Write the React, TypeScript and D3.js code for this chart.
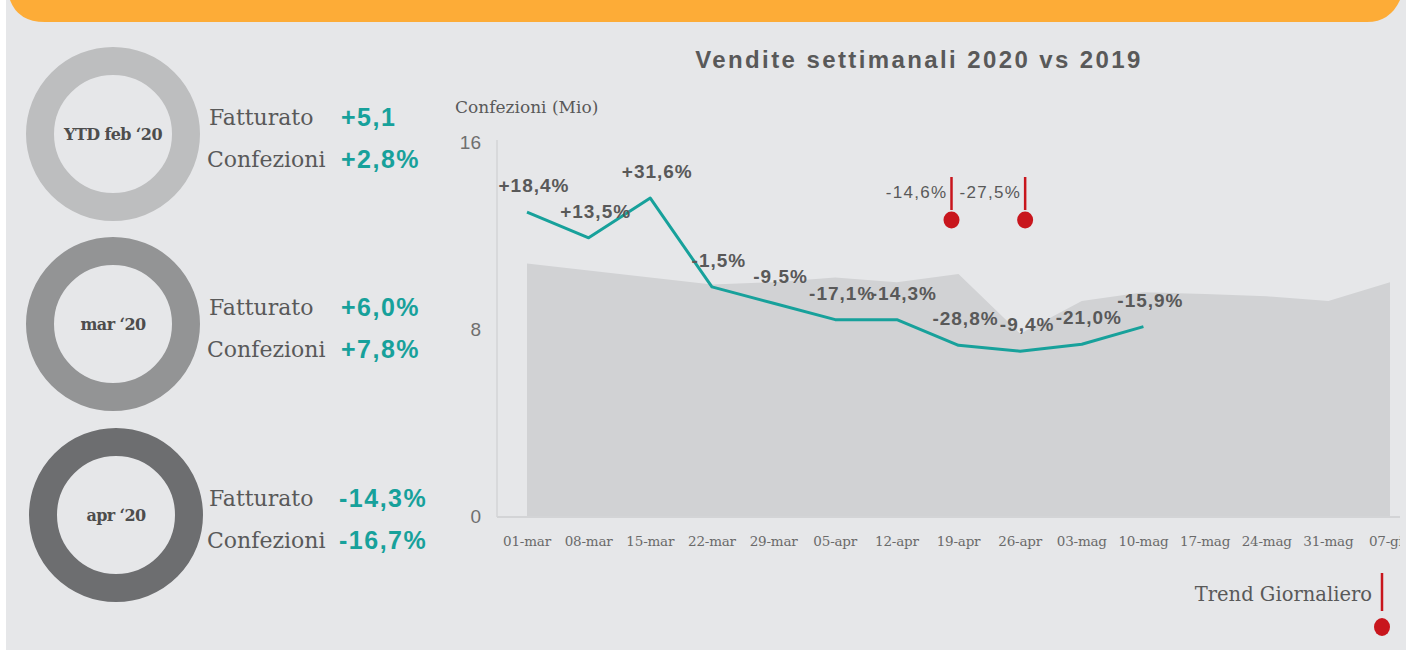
import React from "react";
import * as d3 from "d3";

// weekly sales, million packs
const weeks = [
  "01-mar", "08-mar", "15-mar", "22-mar", "29-mar", "05-apr", "12-apr", "19-apr",
  "26-apr", "03-mag", "10-mag", "17-mag", "24-mag", "31-mag", "07-giu",
];
const sales2019 = [10.8, 10.5, 10.2, 9.9, 10.0, 10.2, 10.0, 10.35, 7.8, 9.2, 9.57, 9.5, 9.4, 9.2, 10.0];
const sales2020 = [13.0, 11.9, 13.6, 9.8, 9.1, 8.4, 8.4, 7.3, 7.05, 7.35, 8.1];
const changeLabels = ["+18,4%", "+13,5%", "+31,6%", "-1,5%", "-9,5%", "-17,1%", "-14,3%", "-28,8%", "-9,4%", "-21,0%", "-15,9%"];
const yTicks = [0, 8, 16];

// daily trend markers
const trendWeeks = ["19-apr", "26-apr"];
const trendLabels = ["-14,6%", "-27,5%"];

// KPI rings on the left
const periods = ["YTD feb \u201820", "mar \u201820", "apr \u201820"];
const fatturato = ["+5,1", "+6,0%", "-14,3%"];
const confezioni = ["+2,8%", "+7,8%", "-16,7%"];
const ringColors = ["#bdbebf", "#939495", "#6d6e70"];

const W = 1406;
const H = 650;
const teal = "#17a19b";
const red = "#c8161d";
const textGrey = "#595959";
const serif = "'DejaVu Serif', serif";
const sans = "'Liberation Sans', Arial, sans-serif";

const App = () => {
  const x = d3.scalePoint<string>().domain(weeks).range([527, 1390]);
  const y = d3.scaleLinear().domain([0, 16]).range([516, 142]);

  const area = d3
    .area<number>()
    .x((_, i) => x(weeks[i]) as number)
    .y0(y(0))
    .y1((d) => y(d));

  const line = d3
    .line<number>()
    .x((_, i) => x(weeks[i]) as number)
    .y((d) => y(d));

  const ringCx = [113, 113, 116];
  const ringCy = [134, 324, 515];

  return (
    <svg width={W} height={H} style={{ position: "absolute", left: 0, top: 0 }}>
      <defs>
        <clipPath id="plot-clip">
          <rect x={0} y={0} width={1400} height={H} />
        </clipPath>
      </defs>
      <rect x={0} y={0} width={W} height={H} fill="#fff" />
      <rect x={6} y={0} width={W - 6} height={H} fill="#e6e7e9" />

      {/* orange banner */}
      <path d="M10,0 L1400,0 Q1390,22 1367,22 L45,22 Q18,22 10,0 Z" fill="#fdac37" />

      {/* KPI rings */}
      {periods.map((p, i) => (
        <g key={p}>
          <circle cx={ringCx[i]} cy={ringCy[i]} r={73} fill="none" stroke={ringColors[i]} strokeWidth={28} />
          <text
            x={ringCx[i]}
            y={ringCy[i] + 6}
            textAnchor="middle"
            fontFamily={serif}
            fontWeight="bold"
            fontSize={16}
            letterSpacing={-0.6}
            fill="#4d4d4d"
          >
            {p}
          </text>
          <text x={209} y={ringCy[i] - 9} fontFamily={serif} fontSize={22} fill={textGrey}>
            Fatturato
          </text>
          <text x={207} y={ringCy[i] + 33} fontFamily={serif} fontSize={22} fill={textGrey}>
            Confezioni
          </text>
          <text x={i === 2 ? 339 : 341} y={ringCy[i] - 8} fontFamily={sans} fontWeight="bold" fontSize={25} letterSpacing={1.5} fill={teal}>
            {fatturato[i]}
          </text>
          <text x={i === 2 ? 339 : 341} y={ringCy[i] + 34} fontFamily={sans} fontWeight="bold" fontSize={25} letterSpacing={1.5} fill={teal}>
            {confezioni[i]}
          </text>
        </g>
      ))}

      {/* title */}
      <text x={919} y={68} textAnchor="middle" fontFamily={sans} fontWeight="bold" fontSize={24} letterSpacing={2.4} fill={textGrey}>
        Vendite settimanali 2020 vs 2019
      </text>
      <text x={455} y={113} fontFamily={serif} fontSize={17} fill={textGrey}>
        Confezioni (Mio)
      </text>

      {/* 2019 area */}
      <path d={area(sales2019) ?? ""} fill="#d1d2d4" />

      {/* axes */}
      <line x1={497} x2={497} y1={140} y2={517} stroke="#d3d4d6" strokeWidth={1.5} />
      <line x1={497} x2={1400} y1={517} y2={517} stroke="#d3d4d6" strokeWidth={2} />
      {yTicks.map((t) => (
        <text key={t} x={481} y={y(t) + 7} textAnchor="end" fontFamily={sans} fontSize={19} fill="#6f6f6f">
          {t}
        </text>
      ))}
      <g clipPath="url(#plot-clip)">
        {weeks.map((w) => (
          <text key={w} x={x(w)} y={546} textAnchor="middle" fontFamily={serif} fontSize={13.5} letterSpacing={-0.2} fill="#6a6a6a">
            {w}
          </text>
        ))}
      </g>

      {/* 2020 line */}
      <path d={line(sales2020) ?? ""} fill="none" stroke={teal} strokeWidth={3} strokeLinejoin="round" />
      {sales2020.map((v, i) => (
        <text
          key={weeks[i]}
          x={(x(weeks[i]) as number) + 7}
          y={y(v) - 20}
          textAnchor="middle"
          fontFamily={sans}
          fontWeight="bold"
          fontSize={19}
          letterSpacing={1}
          fill={textGrey}
        >
          {changeLabels[i]}
        </text>
      ))}

      {/* daily trend markers */}
      {trendWeeks.map((w, i) => {
        const mx = (x(w) as number) + (i === 0 ? -7 : 5);
        return (
          <g key={w}>
            <line x1={mx} x2={mx} y1={177} y2={210} stroke={red} strokeWidth={2.5} />
            <ellipse cx={mx} cy={220} rx={8} ry={8.5} fill={red} />
            <text x={mx - 4} y={198} textAnchor="end" fontFamily={sans} fontSize={17} letterSpacing={1.3} fill={textGrey}>
              {trendLabels[i]}
            </text>
          </g>
        );
      })}

      {/* legend */}
      <text x={1372} y={601} textAnchor="end" fontFamily={serif} fontSize={19.5} fill={textGrey}>
        Trend Giornaliero
      </text>
      <line x1={1382} x2={1382} y1={573} y2={611} stroke={red} strokeWidth={2.5} />
      <ellipse cx={1382} cy={627} rx={8} ry={9} fill={red} />
    </svg>
  );
};

export default App;
